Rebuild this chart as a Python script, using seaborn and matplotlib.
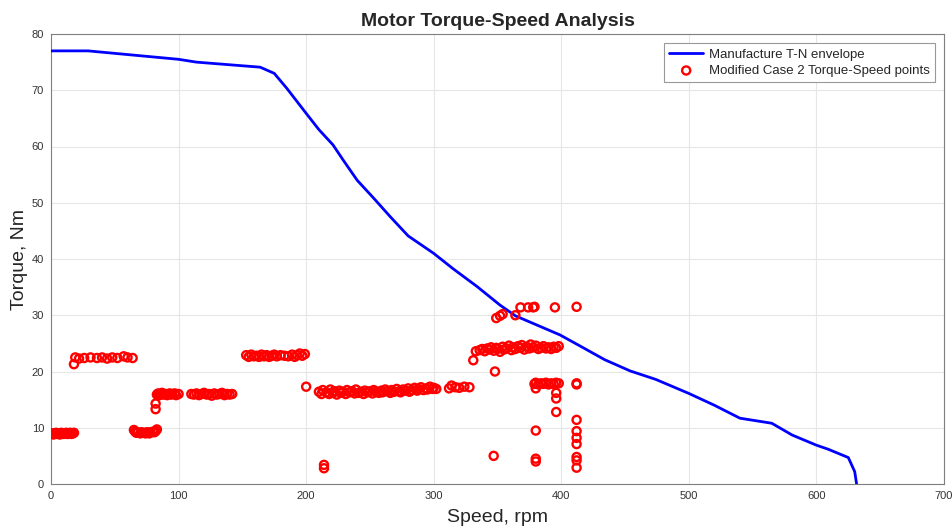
import numpy as np
import pandas as pd
import matplotlib
matplotlib.use("Agg")
import matplotlib.pyplot as plt
import seaborn as sns

# ---------------- data ----------------
env_speed = [0, 29, 100, 114, 164, 175, 185, 200, 210, 221, 229, 240, 253, 266,
             280, 300, 315, 334, 352, 364, 399, 415, 434, 454, 474, 500, 520,
             540, 565, 581, 600, 609, 625, 630, 631.5]
env_torque = [77.0, 77.0, 75.5, 75.0, 74.1, 73.0, 70.3, 65.9, 63.0, 60.3, 57.6,
              54.0, 50.8, 47.5, 44.1, 41.0, 38.3, 35.1, 31.8, 29.9, 26.5, 24.5,
              22.1, 20.1, 18.6, 16.1, 14.0, 11.7, 10.8, 8.7, 6.9, 6.2, 4.7, 2.2, 0.0]

spd_a = [0, 1, 2, 3, 4, 5, 6, 7, 8, 9, 10, 11, 12, 13, 14, 15, 16, 17, 18]
trq_a = [8.9, 9.0, 8.8, 9.0, 9.1, 8.9, 9.0, 8.8, 9.1, 9.0, 8.9, 9.0, 9.1, 8.9, 9.0, 9.1, 8.9, 9.0, 9.1]

spd_b = [18, 19, 22, 26, 31, 36, 40, 44, 48, 52, 57, 60, 64]
trq_b = [21.3, 22.5, 22.3, 22.4, 22.5, 22.4, 22.5, 22.3, 22.5, 22.4, 22.7, 22.5, 22.4]

spd_c = [65, 66, 67, 68, 70, 71, 72, 74, 75, 76, 77, 78, 80, 81, 82, 83, 82, 82]
trq_c = [9.6, 9.3, 9.1, 9.2, 9.0, 9.2, 9.1, 9.0, 9.2, 9.1, 9.0, 9.2, 9.3, 9.2, 9.4, 9.7, 13.3, 14.3]

spd_d = [83, 84, 85, 86, 87, 88, 90, 91, 93, 94, 95, 97, 98, 100,
         110, 112, 114, 116, 118, 120, 122, 124, 126, 128, 130, 132, 134, 136, 138, 140, 142]
trq_d = [15.9, 16.1, 15.8, 16.0, 16.2, 15.9, 16.0, 15.8, 16.1, 15.9, 16.0, 16.1, 15.8, 16.0,
         16.0, 15.9, 16.1, 15.8, 16.0, 16.2, 15.9, 16.0, 15.7, 16.1, 15.9, 16.0, 16.2, 15.8, 16.0, 15.9, 16.0]

spd_e = [153, 155, 157, 159, 161, 163, 165, 167, 169, 171, 173, 175, 177, 180,
         183, 186, 189, 191, 193, 195, 197, 199, 200]
trq_e = [22.9, 22.6, 23.0, 22.7, 22.8, 22.6, 23.0, 22.7, 22.9, 22.6, 22.8, 23.0, 22.7, 22.9,
         22.8, 22.7, 23.0, 22.6, 22.9, 23.2, 22.8, 23.1, 17.3]

spd_f = [210, 212, 213, 214, 214, 216, 218, 219, 221, 222, 224, 226, 227, 229, 231, 232,
         234, 236, 238, 239, 241, 243, 245, 246, 248, 250, 252, 253, 255, 257, 259, 260,
         262, 264, 266, 267, 269, 271, 273, 274, 276, 278, 280, 281, 283, 285, 287, 288,
         290, 292, 294, 295, 297, 299, 300, 302]
trq_f = [16.4, 16.0, 16.7, 3.4, 2.8, 16.3, 16.0, 16.8, 16.2, 16.5, 15.9, 16.6, 16.2, 16.4,
         16.0, 16.7, 16.3, 16.5, 16.1, 16.8, 16.2, 16.4, 16.0, 16.6, 16.3, 16.5, 16.1, 16.7,
         16.4, 16.2, 16.6, 16.3, 16.8, 16.5, 16.2, 16.7, 16.4, 16.9, 16.5, 16.3, 16.8, 16.6,
         17.0, 16.4, 16.7, 17.1, 16.6, 16.9, 17.2, 16.7, 17.0, 16.8, 17.3, 16.9, 17.1, 16.9]

spd_g = [312, 314, 317, 320, 324, 328, 331, 333]
trq_g = [17.0, 17.5, 17.2, 17.1, 17.3, 17.2, 22.0, 23.6]

spd_h = [336, 338, 340, 342, 344, 345, 347, 349, 350, 352, 354, 355, 357, 359, 361, 362,
         364, 366, 368, 369, 371, 373, 375, 376, 378, 380, 382, 384, 386, 388, 390, 392,
         394, 396, 398]
trq_h = [23.8, 24.0, 23.6, 24.1, 23.9, 24.3, 23.7, 24.2, 24.0, 23.5, 24.4, 23.9, 24.1, 24.6,
         23.8, 24.3, 24.0, 24.5, 24.2, 24.7, 23.9, 24.4, 24.1, 24.8, 24.3, 24.6, 24.0, 24.2,
         24.5, 24.1, 24.3, 24.0, 24.4, 24.2, 24.5]

spd_i = [349, 352, 354, 364, 368, 374, 378, 379, 395, 412, 348, 347]
trq_i = [29.5, 29.9, 30.2, 30.0, 31.4, 31.4, 31.4, 31.5, 31.4, 31.5, 20.0, 5.0]

spd_j = [379, 380, 382, 384, 386, 388, 390, 392, 394, 396, 398, 380, 396, 396, 396, 380, 380, 380]
trq_j = [17.8, 18.0, 17.7, 17.9, 17.8, 18.0, 17.7, 17.9, 17.8, 18.0, 17.9, 17.0, 16.2, 15.2, 12.8, 9.5, 4.5, 4.0]

spd_k = [412, 412, 412, 412, 412, 412, 412, 412, 412]
trq_k = [17.9, 17.7, 11.4, 9.4, 8.2, 7.1, 4.8, 4.2, 2.9]

env = pd.DataFrame({"speed": env_speed, "torque": env_torque})
pts = pd.DataFrame({
    "speed": spd_a + spd_b + spd_c + spd_d + spd_e + spd_f + spd_g + spd_h + spd_i + spd_j + spd_k,
    "torque": trq_a + trq_b + trq_c + trq_d + trq_e + trq_f + trq_g + trq_h + trq_i + trq_j + trq_k,
})

# ---------------- style ----------------
sns.set_style("whitegrid")
plt.rcParams["font.family"] = ["Liberation Sans", "DejaVu Sans"]

fig = plt.figure(figsize=(9.52, 5.30), dpi=100)
ax = fig.add_axes([51 / 952, 46 / 530, 893 / 952, 450 / 530])

sns.lineplot(data=env, x="speed", y="torque", sort=False, color="#0000ff", linewidth=2,
             ax=ax, label="Manufacture T-N envelope", zorder=3)
sns.scatterplot(data=pts, x="speed", y="torque", marker="o", s=34, facecolor="none",
                edgecolor="#ff0000", linewidth=1.7, ax=ax,
                label="Modified Case 2 Torque-Speed points", zorder=4)

ax.set_xlim(0, 700)
ax.set_ylim(0, 80)
ax.set_xticks(range(0, 701, 100))
ax.set_yticks(range(0, 81, 10))
ax.grid(True, color="#e6e6e6", linewidth=0.8)
for s in ax.spines.values():
    s.set_visible(True)
    s.set_color("#7f7f7f")
    s.set_linewidth(0.8)
ax.tick_params(direction="in", length=4, color="#555555", labelsize=8, labelcolor="#333333",
               top=False, right=False, pad=5)

ax.set_title("Motor Torque-Speed Analysis", fontsize=14, fontweight="bold", pad=6)
ax.set_xlabel("Speed, rpm", fontsize=14, color="#262626", labelpad=6)
ax.set_ylabel("Torque, Nm", fontsize=14, color="#262626", labelpad=3)

leg = ax.legend(loc="upper right", fontsize=9.5, frameon=True, fancybox=False,
                edgecolor="#999999", framealpha=1, handlelength=2.6,
                borderaxespad=0.7, borderpad=0.4, labelspacing=0.3, handletextpad=0.4)
leg.get_frame().set_linewidth(0.8)

fig.savefig("out.png", dpi=100)
